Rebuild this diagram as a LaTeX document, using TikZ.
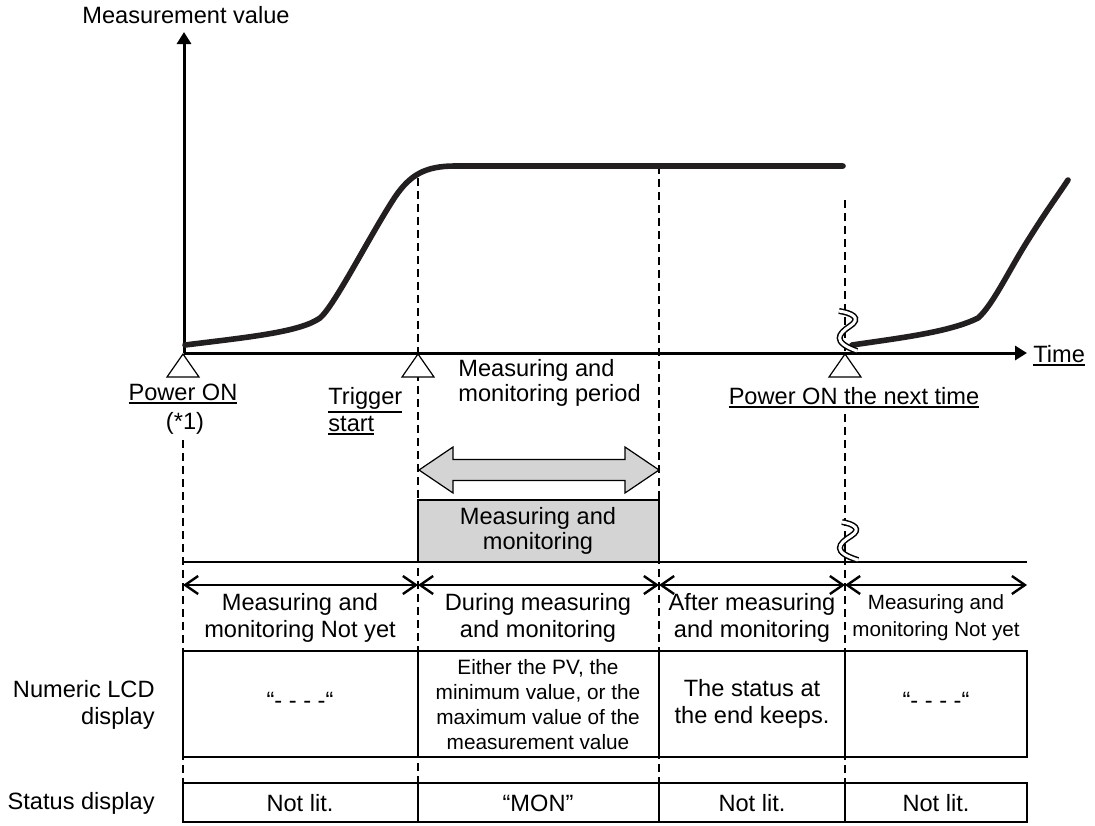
\documentclass[tikz,border=0pt]{standalone}
\usepackage{fontspec}
\setmainfont{Liberation Sans}
\usetikzlibrary{arrows.meta, positioning}
\definecolor{curveblack}{RGB}{35,31,32}
\definecolor{boxgray}{RGB}{212,212,212}
\newcommand{\undl}[1]{\setbox0\hbox{#1}\rlap{\rule[\dimexpr-\dp0-2pt\relax]{\wd0}{1pt}}\box0}

\begin{document}
\begin{tikzpicture}[x=0.5pt, y=-0.5pt,
    every node/.style={font=\fontsize{11.8}{13.5}\selectfont, inner sep=0pt},
    smalltext/.style={font=\fontsize{10.4}{12.5}\selectfont},
    valaxis/.style={line width=1.5pt, -{Triangle[length=6pt, width=7pt]}},
    trend/.style={line width=2.8pt, draw=curveblack, line cap=round, line join=round},
    guide/.style={line width=0.9pt, dash pattern=on 4pt off 2.5pt},
    timemark/.style={draw, fill=white, line width=0.6pt},
    phasearrow/.style={line width=1.2pt, {Straight Barb[length=6.5pt, width=9pt]}-{Straight Barb[length=6.5pt, width=9pt]}},
    breakmark/.style={draw=black, double=white, line width=0.75pt, double distance=1.5pt},
    cellline/.style={line width=1pt}
]
\useasboundingbox (0,0) rectangle (1095,825);

% axes
\coordinate (origin) at (184,353);
\coordinate (ytip) at (184,32);
\coordinate (xtip) at (1027,353);
\node (yname) at (186,15) {Measurement value};
\node[anchor=base west] (xname) at (1033,362) {\undl{Time}};

% dashed guides
\draw[guide] (183,440) -- (183,822);
\draw[guide] (418,178) -- (418,822);
\draw[guide] (659,166) -- (659,822);
\draw[guide] (845,200) -- (845,353);
\draw[guide] (845,414) -- (845,822);

\draw[valaxis] (origin) -- (ytip);
\draw[valaxis] (origin) -- (xtip);

% measurement curves
\draw[trend] (185,345) .. controls (250,337) and (300,332) .. (320,318)
    .. controls (335,305) and (370,235) .. (395,197)
    .. controls (410,175) and (425,166) .. (455,166) -- (843,166);
\draw[trend] (852,345) .. controls (900,338) and (950,332) .. (978,318)
    .. controls (993,305) and (1010,268) .. (1030,237)
    .. controls (1045,213) and (1058,195) .. (1068,180);

% break marks
\draw[breakmark] (839,311) .. controls (852,313) and (862,318) .. (850,326)
    .. controls (838,334) and (832,342) .. (857,351);

% time marks
\foreach \tx in {183,418,845}
  \draw[timemark] (\tx,354) -- (\tx-16,377) -- (\tx+16,377) -- cycle;

\node[anchor=base] (pwr) at (183,400) {\undl{Power ON}};
\node (pwrnote) at (185,423) {(*1)};
\node[anchor=base west, align=left] (trig) at (328,431) {\undl{Trigger}\\\undl{start}};
\node[anchor=west, align=left, font=\fontsize{11.8}{12.5}\selectfont] (period) at (458,383) {Measuring and\\monitoring period};
\node[anchor=base] (pwrnext) at (854,404) {\undl{Power ON the next time}};

% period arrow and bar
\draw[fill=boxgray, line width=0.6pt] (419,470) -- (453,447) -- (453,459.5) -- (625,459.5)
    -- (625,447) -- (659,470) -- (625,493) -- (625,480.5) -- (453,480.5) -- (453,493) -- cycle;
\draw[fill=boxgray, cellline] (418,500) rectangle (659,562);
\node[align=center, font=\fontsize{11.8}{12.5}\selectfont] (bar) at (538,531) {Measuring and\\monitoring};
\draw[cellline] (183,562) -- (1027,562);
\draw[breakmark] (842,522) .. controls (854,524) and (862,529) .. (851,536)
    .. controls (838,544) and (832,552) .. (858,560);

% phases
\coordinate (a0) at (183,585);
\coordinate (a1) at (418,585);
\coordinate (a2) at (659,585);
\coordinate (a3) at (845,585);
\coordinate (a4) at (1027,585);
\draw[phasearrow] (a0) -- (a1);
\draw[phasearrow] (a1) -- (a2);
\draw[phasearrow] (a2) -- (a3);
\draw[phasearrow] (a3) -- (a4);

\node[align=center] (ph1) at (300,618) {Measuring and\\monitoring Not yet};
\node[align=center] (ph2) at (538,618) {During measuring\\and monitoring};
\node[align=center] (ph3) at (752,618) {After measuring\\and monitoring};
\node[align=center, font=\fontsize{10.3}{13.5}\selectfont] (ph4) at (936,618) {Measuring and\\monitoring Not yet};

% table
\draw[cellline] (183,651) rectangle (1027,757);
\draw[cellline] (183,783) rectangle (1027,822);
\foreach \dx in {418,659,845} {
  \draw[cellline] (\dx,651) -- (\dx,757);
  \draw[cellline] (\dx,783) -- (\dx,822);
}

\node[anchor=east, align=right] (lcd) at (155,705) {Numeric LCD\\display};
\node[anchor=east] (status) at (155,803) {Status display};

\node (lcd1) at (300,700) {“- - - -“};
\node[align=center, smalltext] (lcd2) at (538,705) {Either the PV, the\\minimum value, or the\\maximum value of the\\measurement value};
\node[align=center] (lcd3) at (752,704) {The status at\\the end keeps.};
\node (lcd4) at (936,700) {“- - - -“};

\node (st1) at (300,803) {Not lit.};
\node (st2) at (538,803) {“MON”};
\node (st3) at (752,803) {Not lit.};
\node (st4) at (936,803) {Not lit.};

\end{tikzpicture}
\end{document}
